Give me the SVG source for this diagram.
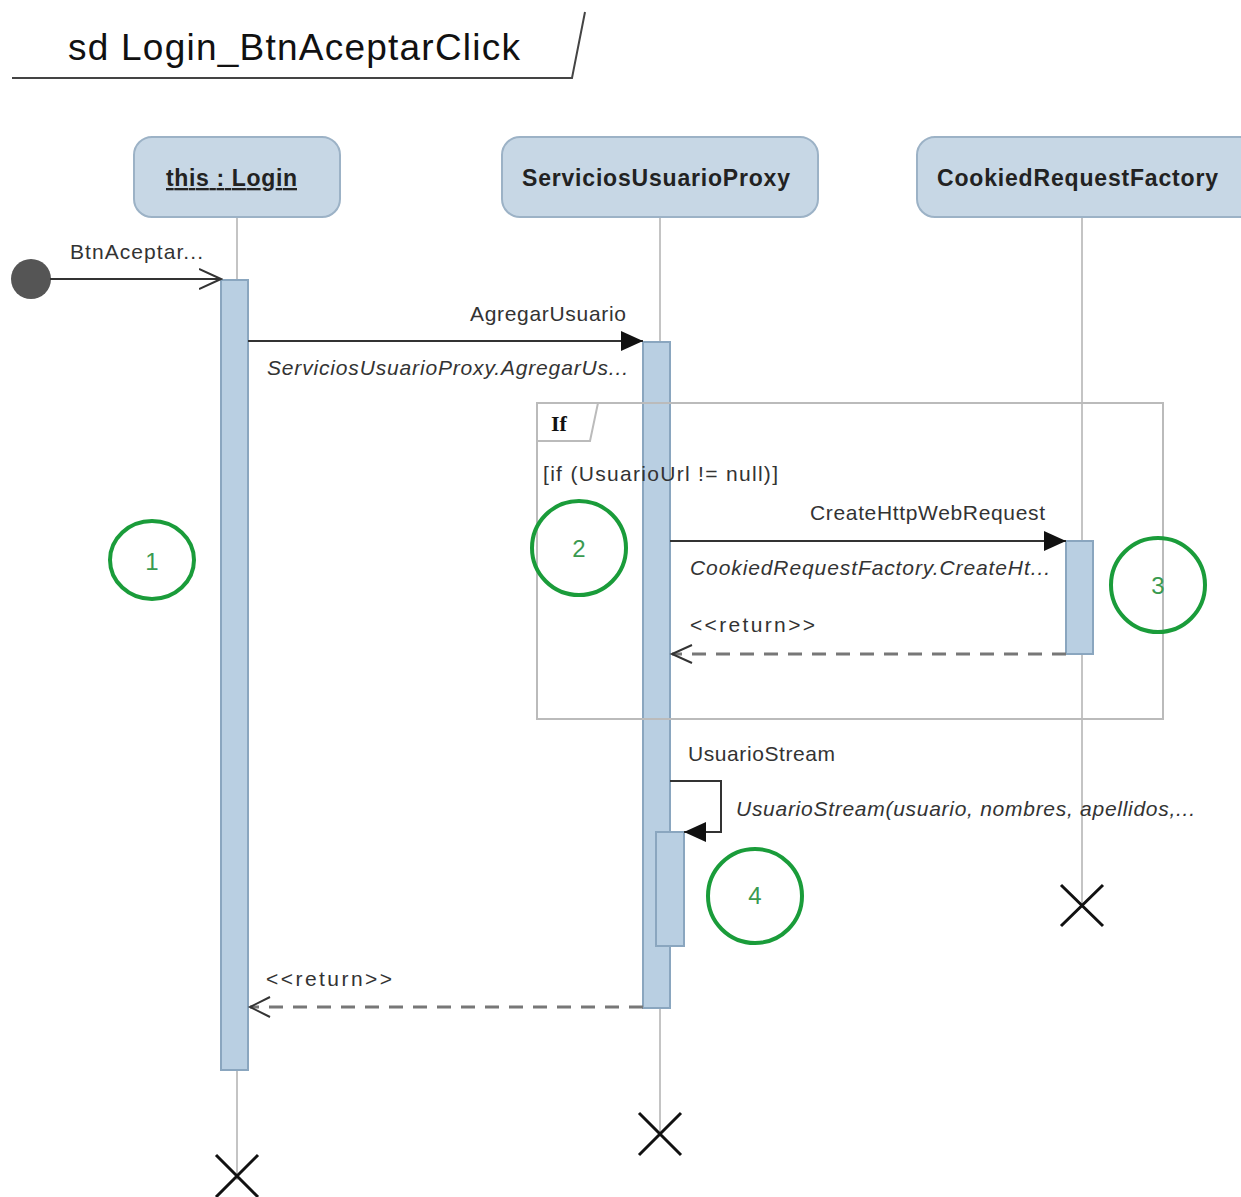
<svg xmlns="http://www.w3.org/2000/svg" width="1241" height="1197" viewBox="0 0 1241 1197">
<defs>
<style>
.head{fill:#c7d7e5;stroke:#9cb2c6;stroke-width:2}
.hl{font-family:"Liberation Sans",Arial,sans-serif;font-weight:bold;font-size:23px;fill:#222}
.life{stroke:#c4c4c4;stroke-width:2;fill:none}
.act{fill:#b9cfe2;stroke:#8aa6bf;stroke-width:2}
.lbl{font-family:"Liberation Sans",Arial,sans-serif;font-size:21px;fill:#333}
.it{font-family:"Liberation Sans",Arial,sans-serif;font-size:21px;font-style:italic;fill:#333}
.msg{stroke:#333;stroke-width:2;fill:none}
.ret{stroke:#777;stroke-width:3;stroke-dasharray:14 10;fill:none}
.x{stroke:#111;stroke-width:3}
.gc{fill:none;stroke:#1a9c3a;stroke-width:4}
.gn{font-family:"Liberation Sans",Arial,sans-serif;font-size:24px;fill:#3a9a50;text-anchor:middle}
</style>
<marker id="filled" markerWidth="24" markerHeight="20" refX="22" refY="10" orient="auto" markerUnits="userSpaceOnUse">
<path d="M0,0 L22,10 L0,20 Z" fill="#111"/>
</marker>
<marker id="open" markerWidth="24" markerHeight="24" refX="22" refY="12" orient="auto" markerUnits="userSpaceOnUse">
<path d="M0,2 L22,12 L0,22" fill="none" stroke="#333" stroke-width="2"/>
</marker>
</defs>
<rect width="1241" height="1197" fill="#fff"/>

<g id="frame-title">
<path d="M12,78 L572,78 L585,12" fill="none" stroke="#444" stroke-width="2"/>
<text x="68" y="60" font-family="Liberation Sans,Arial,sans-serif" font-size="37" fill="#111" textLength="452">sd Login_BtnAceptarClick</text>
</g>

<g id="lifelines">
<line class="life" x1="237" y1="217" x2="237" y2="1180"/>
<line class="life" x1="660" y1="217" x2="660" y2="1133"/>
<line class="life" x1="1082" y1="217" x2="1082" y2="905"/>
</g>

<g id="login">
<rect class="head" x="134" y="137" width="206" height="80" rx="18"/>
<text class="hl" x="166" y="186" textLength="131" text-decoration="underline">this : Login</text>
<rect class="act" x="221" y="280" width="27" height="790"/>
<path class="x" d="M216,1155 L258,1197 M258,1155 L216,1197"/>
</g>

<g id="proxy">
<rect class="head" x="502" y="137" width="316" height="80" rx="18"/>
<text class="hl" x="522" y="186" textLength="268">ServiciosUsuarioProxy</text>
<rect class="act" x="643" y="342" width="27" height="666"/>
<rect class="act" x="656" y="832" width="28" height="114"/>
<path class="x" d="M639,1113 L681,1155 M681,1113 L639,1155"/>
</g>

<g id="factory">
<rect class="head" x="917" y="137" width="340" height="80" rx="18"/>
<text class="hl" x="937" y="186" textLength="281">CookiedRequestFactory</text>
<rect class="act" x="1066" y="541" width="27" height="113"/>
<path class="x" d="M1061,885 L1103,926 M1103,885 L1061,926"/>
</g>

<g id="if-fragment">
<rect x="537" y="403" width="626" height="316" fill="none" stroke="#bbb" stroke-width="2"/>
<path d="M537,441 L590,441 L598,403" fill="none" stroke="#bbb" stroke-width="2"/>
<text x="551" y="431" font-family="Liberation Serif,serif" font-weight="bold" font-size="22" fill="#111">If</text>
<text class="lbl" x="543" y="481" textLength="235">[if (UsuarioUrl != null)]</text>
</g>

<g id="found">
<circle cx="31" cy="279" r="20" fill="#555"/>
</g>

<g id="connectors">
<line class="msg" x1="50" y1="279" x2="221" y2="279" marker-end="url(#open)"/>
<text class="lbl" x="70" y="259" textLength="133">BtnAceptar...</text>

<line class="msg" x1="248" y1="341" x2="643" y2="341" marker-end="url(#filled)"/>
<text class="lbl" x="470" y="321" textLength="156">AgregarUsuario</text>
<text class="it" x="267" y="375" textLength="361">ServiciosUsuarioProxy.AgregarUs...</text>

<line class="msg" x1="670" y1="541" x2="1066" y2="541" marker-end="url(#filled)"/>
<text class="lbl" x="810" y="520" textLength="235">CreateHttpWebRequest</text>
<text class="it" x="690" y="575" textLength="360">CookiedRequestFactory.CreateHt...</text>

<text class="lbl" x="690" y="632" textLength="125">&lt;&lt;return&gt;&gt;</text>
<line class="ret" x1="1066" y1="654" x2="672" y2="654"/>
<path d="M692,645 L672,654 L692,663" fill="none" stroke="#333" stroke-width="2"/>

<text class="lbl" x="688" y="761" textLength="147">UsuarioStream</text>
<path class="msg" d="M670,781 L721,781 L721,832 L684,832" marker-end="url(#filled)"/>
<text class="it" x="736" y="816" textLength="459">UsuarioStream(usuario, nombres, apellidos,...</text>

<text class="lbl" x="266" y="986" textLength="126">&lt;&lt;return&gt;&gt;</text>
<line class="ret" x1="643" y1="1007" x2="250" y2="1007"/>
<path d="M270,997 L250,1007 L270,1017" fill="none" stroke="#333" stroke-width="2"/>
</g>

<g id="annotations">
<ellipse class="gc" cx="152" cy="560" rx="42" ry="39"/>
<text class="gn" x="152" y="570">1</text>
<circle class="gc" cx="579" cy="548" r="47"/>
<text class="gn" x="579" y="557">2</text>
<circle class="gc" cx="1158" cy="585" r="47"/>
<text class="gn" x="1158" y="594">3</text>
<circle class="gc" cx="755" cy="896" r="47"/>
<text class="gn" x="755" y="904">4</text>
</g>
</svg>
